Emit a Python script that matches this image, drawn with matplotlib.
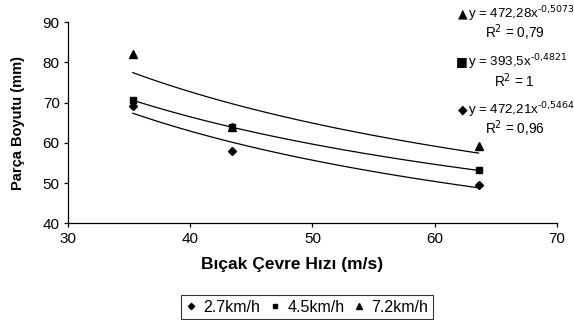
import numpy as np
import matplotlib
matplotlib.use('Agg')
from matplotlib import pyplot as plt

plt.rcParams['font.family'] = ['Liberation Sans', 'DejaVu Sans']

# bıçak çevre hızı (m/s)
hiz = [35.3, 43.4, 63.6]
# parça boyutu (mm)
v27 = [69.1, 57.9, 49.6]
v45 = [70.6, 63.9, 53.2]
v72 = [82.0, 64.0, 59.2]

seriler = ['2.7km/h', '4.5km/h', '7.2km/h']
# trend çizgisi: y = a * x^b
katsayi_a = [472.21, 393.5, 472.28]
katsayi_b = [-0.5464, -0.4821, -0.5073]
denklem = ['y = 472,21x$^{\\text{-0,5464}}$', 'y = 393,5x$^{\\text{-0,4821}}$', 'y = 472,28x$^{\\text{-0,5073}}$']
r2 = ['R$^2$ = 0,96', 'R$^2$ = 1', 'R$^2$ = 0,79']

fig = plt.figure(figsize=(5.74, 3.2), dpi=100)
ax = fig.add_axes([0.1185, 0.302, 0.8515, 0.629])

isaret = ['D', 's', '^']
boy = [4.5, 5, 6]
degerler = [v27, v45, v72]
xx = np.linspace(hiz[0], hiz[-1], 100)
for i in range(3):
    ax.plot(xx, katsayi_a[i] * xx ** katsayi_b[i], color='black', lw=0.9)
for i in range(3):
    ax.plot(hiz, degerler[i], linestyle='none', marker=isaret[i], ms=boy[i],
            color='black', label=seriler[i])

ax.set_xlim(30, 70)
ax.set_ylim(40, 90)
ax.set_xticks([30, 40, 50, 60, 70])
ax.set_yticks([40, 50, 60, 70, 80, 90])
for s in ['top', 'right']:
    ax.spines[s].set_visible(False)
for s in ['left', 'bottom']:
    ax.spines[s].set_linewidth(0.9)
ax.tick_params(direction='out', length=3, width=0.9, labelsize=11, pad=3)

ax.set_xlabel('Bıçak Çevre Hızı (m/s)', fontsize=12.5, fontweight='bold')
ax.xaxis.set_label_coords(0.458, -0.165)
ax.set_ylabel('Parça Boyutu (mm)', fontsize=10.5, fontweight='bold', labelpad=13)

# denklemler (sağ üst)
sembol = ['◆', '■', '▲']
ypos = [[110, 129], [62, 81], [14, 33]]
xbas = [0.797, 0.795, 0.797]
for i in range(3):
    y1 = 1 - ypos[i][0] / 320
    y2 = 1 - ypos[i][1] / 320
    fig.text(xbas[i], y1, sembol[i], fontsize=9, va='center', family=['DejaVu Sans'])
    fig.text(0.815, y1, denklem[i], fontsize=9.6, va='center')
    fig.text(0.897, y2, r2[i], fontsize=9.8, va='center', ha='center')

leg = fig.legend(loc='center', bbox_to_anchor=(0.535, 0.04), ncol=3, fontsize=11.5,
                 frameon=True, fancybox=False, edgecolor='black', handlelength=0.6,
                 handletextpad=0.5, columnspacing=0.6, borderpad=0.3, markerscale=0.7)
leg.get_frame().set_linewidth(0.8)

fig.savefig('out.png', dpi=100)
